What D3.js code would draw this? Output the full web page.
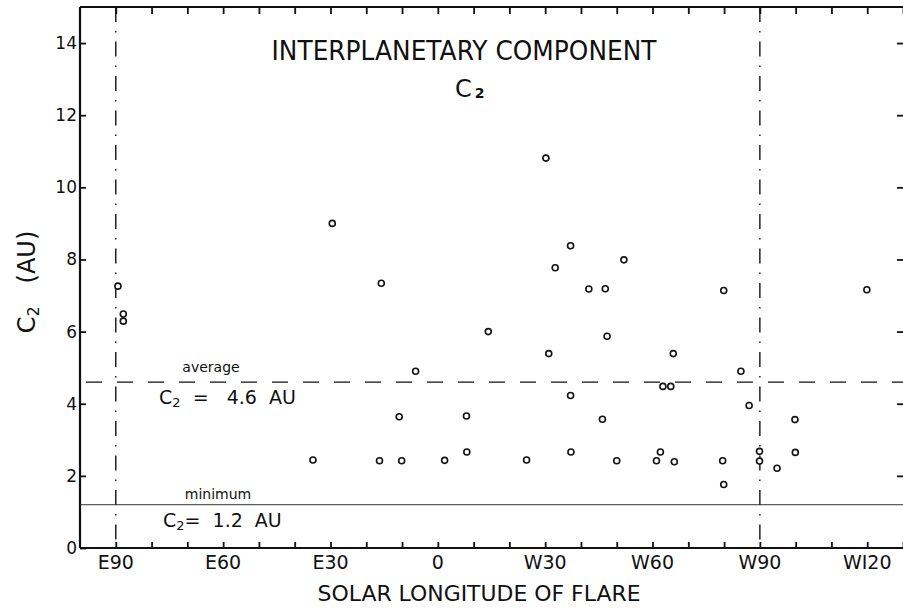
<!DOCTYPE html>
<html>
<head>
<meta charset="utf-8">
<script src="https://cdn.jsdelivr.net/npm/d3@7"></script>
<style>
  body { margin: 0; background: #fff; }
  svg { display: block; }
  text { font-family: "DejaVu Sans", sans-serif; fill: #111; white-space: pre; }
</style>
</head>
<body>
<div id="wrapper"></div>
<script>
// solar longitude of flare (E negative, W positive) and C2 in AU
const longitude = [-89.4, -87.9, -87.9, -29.5, -15.8, 30.2, 37.1, 32.8, 52.0, 42.2,
                   46.8, 14.1, 47.3, 31.0, 65.8, -6.2, 62.9, 65.1, 37.1, -10.8,
                   8.0, 46.0, -34.9, -16.3, -10.1, 1.9, 8.1, 24.8, 37.2, 50.0,
                   61.1, 62.2, 66.1, 79.9, 119.9, 84.7, 87.0, 99.8, 79.6, 89.9,
                   89.9, 94.8, 99.9, 79.9];
const c2 = [7.26, 6.49, 6.29, 9.0, 7.34, 10.81, 8.38, 7.77, 7.99, 7.18,
            7.19, 6.0, 5.87, 5.39, 5.39, 4.9, 4.48, 4.48, 4.23, 3.64,
            3.66, 3.57, 2.44, 2.42, 2.42, 2.43, 2.66, 2.44, 2.66, 2.42,
            2.42, 2.66, 2.39, 7.14, 7.16, 4.9, 3.95, 3.56, 2.42, 2.68,
            2.41, 2.21, 2.65, 1.76];

const xMajorTicks = [-90, -60, -30, 0, 30, 60, 90, 120];
const xMajorLabels = ["E90", "E60", "E30", "0", "W30", "W60", "W90", "WI20"];
const xMinorTicks = d3.range(-90, 131, 10);
const yTicks = [0, 2, 4, 6, 8, 10, 12, 14];
const limbs = [-90, 90];
const averageC2 = 4.6;
const minimumC2 = 1.2;

const dimension = {
    width: 903,
    height: 610,
    margin: { top: 7, left: 80, bottom: 62, right: 0 }
};
dimension.boundedWidth = dimension.width - dimension.margin.left - dimension.margin.right;
dimension.boundedHeight = dimension.height - dimension.margin.top - dimension.margin.bottom;

const svg = d3.select("#wrapper").append("svg")
    .attr("width", dimension.width)
    .attr("height", dimension.height);

const xScaler = d3.scaleLinear()
    .domain([-100, 130])
    .range([dimension.margin.left, dimension.margin.left + dimension.boundedWidth]);
const yScaler = d3.scaleLinear()
    .domain([0, 15])
    .range([dimension.margin.top + dimension.boundedHeight, dimension.margin.top]);

const x0 = xScaler.range()[0], x1 = xScaler.range()[1];
const y0 = yScaler.range()[0], y1 = yScaler.range()[1];

// frame
svg.append("line").attr("x1", x0).attr("x2", x0).attr("y1", y1).attr("y2", y0)
    .attr("stroke", "#111").attr("stroke-width", 2.2);
svg.append("line").attr("x1", x0).attr("x2", x1).attr("y1", y0).attr("y2", y0)
    .attr("stroke", "#111").attr("stroke-width", 2.2);
svg.append("line").attr("x1", x0).attr("x2", x1).attr("y1", y1).attr("y2", y1)
    .attr("stroke", "#111").attr("stroke-width", 2);

// bottom axis, ticks pointing in
const xAxisBottom = d3.axisBottom(xScaler).tickValues(xMinorTicks).tickSize(-6).tickFormat("");
const gxb = svg.append("g").attr("transform", `translate(0,${y0})`).call(xAxisBottom);
gxb.select(".domain").remove();
gxb.selectAll(".tick line").attr("stroke", "#111").attr("stroke-width", 1.8);

const xAxisTop = d3.axisTop(xScaler).tickValues(xMinorTicks).tickSize(-7).tickFormat("");
const gxt = svg.append("g").attr("transform", `translate(0,${y1})`).call(xAxisTop);
gxt.select(".domain").remove();
gxt.selectAll(".tick line").attr("stroke", "#111").attr("stroke-width", 1.8);

svg.append("g").selectAll("text")
    .data(xMajorTicks)
    .join("text")
    .attr("x", d => xScaler(d))
    .attr("y", y0 + 21)
    .attr("text-anchor", "middle")
    .style("font-size", "19px")
    .text((d, i) => xMajorLabels[i]);

// left axis
const yAxisLeft = d3.axisLeft(yScaler).tickValues(yTicks).tickSize(-6).tickFormat("");
const gyl = svg.append("g").attr("transform", `translate(${x0},0)`).call(yAxisLeft);
gyl.select(".domain").remove();
gyl.selectAll(".tick line").attr("stroke", "#111").attr("stroke-width", 1.8);

const yAxisRight = d3.axisRight(yScaler).tickValues(yTicks.filter(d => d > 0)).tickSize(-6).tickFormat("");
const gyr = svg.append("g").attr("transform", `translate(${x1},0)`).call(yAxisRight);
gyr.select(".domain").remove();
gyr.selectAll(".tick line").attr("stroke", "#111").attr("stroke-width", 1.8);

svg.append("g").selectAll("text")
    .data(yTicks)
    .join("text")
    .attr("x", x0 - 3)
    .attr("y", d => yScaler(d) + 6)
    .attr("text-anchor", "end")
    .style("font-size", "17px")
    .text(d => d);

// limb lines (dash-dot)
svg.append("g").selectAll("line")
    .data(limbs)
    .join("line")
    .attr("x1", d => xScaler(d)).attr("x2", d => xScaler(d))
    .attr("y1", y1).attr("y2", y0)
    .attr("stroke", "#111").attr("stroke-width", 1.4)
    .attr("stroke-dasharray", "15,9,1.5,9");

// average and minimum
svg.append("line")
    .attr("x1", x0 + 6).attr("x2", x1)
    .attr("y1", yScaler(averageC2)).attr("y2", yScaler(averageC2))
    .attr("stroke", "#111").attr("stroke-width", 1.3)
    .attr("stroke-dasharray", "16,15");
svg.append("line")
    .attr("x1", x0).attr("x2", x1)
    .attr("y1", yScaler(minimumC2)).attr("y2", yScaler(minimumC2))
    .attr("stroke", "#333").attr("stroke-width", 1);

svg.append("text").attr("x", 211).attr("y", yScaler(averageC2) - 10)
    .attr("text-anchor", "middle").style("font-size", "14px").text("average");
const avgLabel = svg.append("text").attr("x", 159).attr("y", yScaler(averageC2) + 22)
    .style("font-size", "19px");
avgLabel.append("tspan").text("C");
avgLabel.append("tspan").attr("dy", 3).style("font-size", "13px").text("2");
avgLabel.append("tspan").attr("dy", -3).text("  =   " + averageC2.toFixed(1) + "  AU");

svg.append("text").attr("x", 218).attr("y", yScaler(minimumC2) - 6)
    .attr("text-anchor", "middle").style("font-size", "14px").text("minimum");
const minLabel = svg.append("text").attr("x", 163).attr("y", yScaler(minimumC2) + 22)
    .style("font-size", "19px");
minLabel.append("tspan").text("C");
minLabel.append("tspan").attr("dy", 3).style("font-size", "13px").text("2");
minLabel.append("tspan").attr("dy", -3).text("=  " + minimumC2.toFixed(1) + "  AU");

// points
svg.append("g").selectAll("circle")
    .data(longitude)
    .join("circle")
    .attr("cx", d => xScaler(d))
    .attr("cy", (d, i) => yScaler(c2[i]))
    .attr("r", 3)
    .attr("fill", "#fff")
    .attr("stroke", "#111")
    .attr("stroke-width", 1.6);

// titles
svg.append("text").attr("x", 464).attr("y", 60)
    .attr("text-anchor", "middle").style("font-size", "26px")
    .attr("textLength", 385).attr("lengthAdjust", "spacingAndGlyphs")
    .text("INTERPLANETARY COMPONENT");
const sub = svg.append("text").attr("x", 455).attr("y", 97).style("font-size", "24px");
sub.append("tspan").text("C");
sub.append("tspan").attr("dx", 3).attr("dy", 1).style("font-size", "14px").style("font-weight", "bold").text("2");

svg.append("text").attr("x", 479).attr("y", 601)
    .attr("text-anchor", "middle").style("font-size", "22px")
    .attr("textLength", 323).attr("lengthAdjust", "spacingAndGlyphs")
    .text("SOLAR LONGITUDE OF FLARE");

const yLabel = svg.append("text")
    .attr("transform", "translate(35,282) rotate(-90)")
    .attr("text-anchor", "middle")
    .style("font-size", "24px");
yLabel.append("tspan").text("C");
yLabel.append("tspan").attr("dy", 4).style("font-size", "16px").text("2");
yLabel.append("tspan").attr("dy", -4).text("   (AU)");
</script>
</body>
</html>
